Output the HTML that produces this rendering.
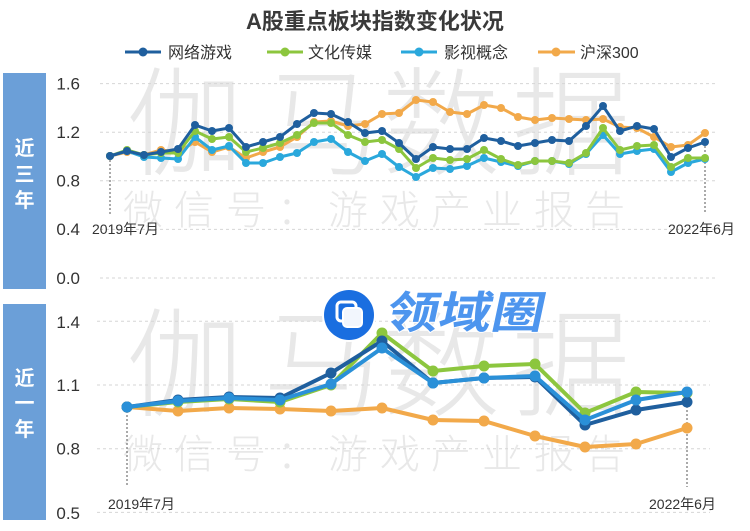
<!DOCTYPE html>
<html><head><meta charset="utf-8"><style>
html,body{margin:0;padding:0;background:#fff;}
svg{display:block;font-family:"Liberation Sans","Noto Sans CJK SC",sans-serif;}
</style></head><body>
<svg width="750" height="531" viewBox="0 0 750 531" xmlns="http://www.w3.org/2000/svg">
<defs>
<marker id="mDB" markerWidth="10" markerHeight="10" refX="5" refY="5" markerUnits="userSpaceOnUse"><circle cx="5" cy="5" r="4" fill="#1f5f9e"/></marker>
<marker id="mGR" markerWidth="10" markerHeight="10" refX="5" refY="5" markerUnits="userSpaceOnUse"><circle cx="5" cy="5" r="4" fill="#8cc63e"/></marker>
<marker id="mLB" markerWidth="10" markerHeight="10" refX="5" refY="5" markerUnits="userSpaceOnUse"><circle cx="5" cy="5" r="4" fill="#2aa8dc"/></marker>
<marker id="mOR" markerWidth="10" markerHeight="10" refX="5" refY="5" markerUnits="userSpaceOnUse"><circle cx="5" cy="5" r="4" fill="#f2a94a"/></marker>
<marker id="bDB" markerWidth="12" markerHeight="12" refX="6" refY="6" markerUnits="userSpaceOnUse"><circle cx="6" cy="6" r="5.5" fill="#1f5f9e"/></marker>
<marker id="bGR" markerWidth="12" markerHeight="12" refX="6" refY="6" markerUnits="userSpaceOnUse"><circle cx="6" cy="6" r="5.5" fill="#8cc63e"/></marker>
<marker id="bLB" markerWidth="12" markerHeight="12" refX="6" refY="6" markerUnits="userSpaceOnUse"><circle cx="6" cy="6" r="5.5" fill="#2a90d8"/></marker>
<marker id="bOR" markerWidth="12" markerHeight="12" refX="6" refY="6" markerUnits="userSpaceOnUse"><circle cx="6" cy="6" r="5.5" fill="#f2a94a"/></marker>
</defs>

<!-- Title -->
<text x="375" y="29" text-anchor="middle" font-size="22" font-weight="bold" fill="#3a3a3a">A股重点板块指数变化状况</text>

<!-- Legend -->
<g font-size="16" fill="#333">
<line x1="125" y1="52" x2="161" y2="52" stroke="#1f5f9e" stroke-width="3"/><circle cx="143" cy="52" r="4.5" fill="#1f5f9e"/>
<text x="168" y="58">网络游戏</text>
<line x1="267" y1="52" x2="303" y2="52" stroke="#8cc63e" stroke-width="3"/><circle cx="285" cy="52" r="4.5" fill="#8cc63e"/>
<text x="308" y="58">文化传媒</text>
<line x1="401" y1="52" x2="437" y2="52" stroke="#2aa8dc" stroke-width="3"/><circle cx="419" cy="52" r="4.5" fill="#2aa8dc"/>
<text x="444" y="58">影视概念</text>
<line x1="538" y1="52" x2="575" y2="52" stroke="#f2a94a" stroke-width="3"/><circle cx="556" cy="52" r="4.5" fill="#f2a94a"/>
<text x="580" y="58">沪深300</text>
</g>

<!-- Side boxes -->
<rect x="3" y="73" width="43" height="216" fill="#6b9fd8"/>
<rect x="3" y="304" width="43" height="216" fill="#6b9fd8"/>
<g font-size="20" font-weight="bold" fill="#fff" text-anchor="middle" font-family="'Noto Sans CJK SC',sans-serif">
<text x="24.5" y="155">近</text><text x="24.5" y="181">三</text><text x="24.5" y="207">年</text>
<text x="24.5" y="385">近</text><text x="24.5" y="410">一</text><text x="24.5" y="436">年</text>
</g>

<!-- Watermarks -->
<g fill="#e8e8e8" text-anchor="middle" font-weight="300" font-family="'Noto Sans CJK SC',sans-serif">
<g font-size="118">
<text x="185" y="166">伽</text><text x="322" y="166">马</text><text x="441" y="166">数</text><text x="571" y="166">据</text>
<text x="185" y="407">伽</text><text x="322" y="407">马</text><text x="441" y="407">数</text><text x="571" y="407">据</text>
</g>
<g font-size="40">
<text x="143" y="224">微</text><text x="194" y="224">信</text><text x="246" y="224">号</text><text x="297" y="224">：</text><text x="348" y="224">游</text><text x="400" y="224">戏</text><text x="451" y="224">产</text><text x="502" y="224">业</text><text x="554" y="224">报</text><text x="605" y="224">告</text>
<text x="143" y="468">微</text><text x="194" y="468">信</text><text x="246" y="468">号</text><text x="297" y="468">：</text><text x="348" y="468">游</text><text x="400" y="468">戏</text><text x="451" y="468">产</text><text x="502" y="468">业</text><text x="554" y="468">报</text><text x="605" y="468">告</text>
</g>
</g>

<!-- Grid -->
<g stroke="#d6d6d6" stroke-width="1" stroke-dasharray="3,3">
<line x1="100" y1="83.6" x2="717" y2="83.6"/>
<line x1="100" y1="132.2" x2="717" y2="132.2"/>
<line x1="100" y1="180.8" x2="717" y2="180.8"/>
<line x1="100" y1="229.4" x2="717" y2="229.4"/>
<line x1="100" y1="278" x2="717" y2="278"/>
<line x1="97" y1="321.3" x2="710" y2="321.3"/>
<line x1="97" y1="385" x2="710" y2="385"/>
<line x1="97" y1="448.7" x2="710" y2="448.7"/>
<line x1="97" y1="512.4" x2="710" y2="512.4"/>
</g>

<!-- Y labels -->
<g font-size="17" fill="#333" text-anchor="end">
<text x="80" y="89.5">1.6</text>
<text x="80" y="138">1.2</text>
<text x="80" y="186.5">0.8</text>
<text x="80" y="235">0.4</text>
<text x="80" y="284">0.0</text>
<text x="80" y="328">1.4</text>
<text x="80" y="391">1.1</text>
<text x="80" y="454.5">0.8</text>
<text x="80" y="519">0.5</text>
</g>

<!-- Annotation dotted lines -->
<g stroke="#555" stroke-width="1" stroke-dasharray="2,2">
<line x1="110" y1="156" x2="110" y2="215"/>
<line x1="705" y1="142" x2="705" y2="212"/>
<line x1="127" y1="407" x2="127" y2="487"/>
<line x1="687" y1="402" x2="687" y2="487"/>
</g>
<g font-size="14" fill="#333">
<text x="92" y="234">2019年7月</text>
<text x="668" y="234">2022年6月</text>
<text x="108" y="509">2019年7月</text>
<text x="649" y="509">2022年6月</text>
</g>

<!-- Top chart series -->
<g fill="none" stroke-linejoin="round" stroke-width="3">
<polyline stroke="#f2a94a" marker-start="url(#mOR)" marker-mid="url(#mOR)" marker-end="url(#mOR)" points="110,156 127,152 144,155 161,150 178,152 195,142 212,152 229,147 246,158 263,152 280,147 297,137 314,122 331,121 348,126 365,124 382,114 399,113 416,100 433,102 450,112 467,114 484,105 501,108 518,117 535,120 552,118 569,119 586,120 603,119 620,127 637,128 654,137 671,147 688,145 705,133"/>
<polyline stroke="#2aa8dc" marker-start="url(#mLB)" marker-mid="url(#mLB)" marker-end="url(#mLB)" points="110,156 127,151 144,157 161,158 178,159 195,137 212,150 229,146 246,163 263,163 280,157 297,153 314,142 331,139 348,152 365,161 382,154 399,167 416,177 433,168 450,169 467,166 484,158 501,162 518,166 535,161 552,161 569,164 586,154 603,135 620,154 637,151 654,149 671,172 688,163 705,159"/>
<polyline stroke="#8cc63e" marker-start="url(#mGR)" marker-mid="url(#mGR)" marker-end="url(#mGR)" points="110,156 127,150 144,155 161,153 178,153 195,131 212,139 229,137 246,152 263,148 280,143 297,135 314,123 331,123 348,135 365,142 382,140 399,149 416,168 433,158 450,160 467,159 484,150 501,159 518,165 535,161 552,161 569,163 586,153 603,128 620,150 637,146 654,145 671,167 688,158 705,158"/>
<polyline stroke="#1f5f9e" marker-start="url(#mDB)" marker-mid="url(#mDB)" marker-end="url(#mDB)" points="110,156 127,151 144,155 161,152 178,149 195,125 212,131 229,128 246,147 263,142 280,137 297,124 314,113 331,114 348,122 365,133 382,131 399,143 416,159 433,147 450,149 467,149 484,138 501,141 518,146 535,143 552,140 569,141 586,126 603,106 620,131 637,126 654,129 671,157 688,148 705,142"/>
</g>

<!-- Bottom chart series -->
<g fill="none" stroke-linejoin="round" stroke-width="4">
<polyline stroke="#f2a94a" marker-start="url(#bOR)" marker-mid="url(#bOR)" marker-end="url(#bOR)" points="127,407 178,411 229,408 280,409 331,411 382,408 433,420 484,421 535,436 585,447 636,444 687,428"/>
<polyline stroke="#8cc63e" marker-start="url(#bGR)" marker-mid="url(#bGR)" marker-end="url(#bGR)" points="127,407 178,402 229,399 280,402 331,385 382,333 433,371 484,366 535,364 585,413 636,392 687,393"/>
<polyline stroke="#1f5f9e" marker-start="url(#bDB)" marker-mid="url(#bDB)" marker-end="url(#bDB)" points="127,407 178,400 229,397 280,398 331,373 382,341 433,383 484,378 535,377 585,425 636,410 687,402"/>
<polyline stroke="#2a90d8" marker-start="url(#bLB)" marker-mid="url(#bLB)" marker-end="url(#bLB)" points="127,407 178,401 229,398 280,400 331,384 382,348 433,383 484,378 535,376 585,420 636,400 687,392"/>
</g>

<!-- Logo -->
<circle cx="349" cy="315" r="27" fill="#fff"/>
<circle cx="349" cy="315" r="25" fill="#1a6ee0"/>
<rect x="337" y="302" width="19" height="19" rx="4" fill="none" stroke="#fff" stroke-width="3"/>
<rect x="343" y="308" width="19" height="19" rx="4" fill="#f2f6fd" stroke="#fff" stroke-width="2"/>
<g transform="translate(384,328) skewX(-12)">
<text x="0" y="0" font-size="44" font-weight="bold" fill="#4d95ee" stroke="#fff" stroke-width="2" paint-order="stroke" textLength="158" lengthAdjust="spacingAndGlyphs" font-family="'Noto Sans CJK SC',sans-serif">领域圈</text>
</g>
</svg>
</body></html>
